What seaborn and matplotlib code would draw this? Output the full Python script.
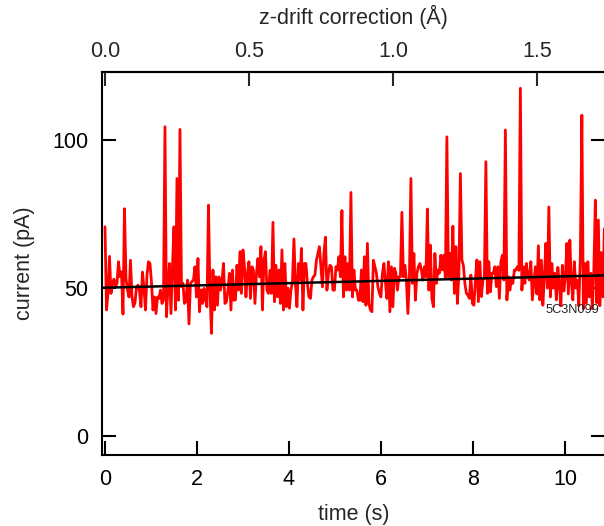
import numpy as np
import pandas as pd
import matplotlib
matplotlib.use("Agg")
import matplotlib.pyplot as plt
import seaborn as sns

# ---------------- data ----------------
sample_interval_s = 0.0326

current_pA = [
    70.7, 42.6, 48.2, 60.7, 48.2, 51.6, 53.0, 50.5, 51.6, 58.9,
    53.8, 55.5, 41.2, 76.8, 53.2, 49.3, 47.0, 59.4, 47.0, 43.7,
    45.0, 50.4, 51.0, 49.0, 43.7, 55.4, 49.9, 42.6, 54.4, 58.9,
    58.3, 52.0, 42.6, 47.0, 41.4, 47.0, 46.5, 49.3, 44.8, 46.0,
    104.5, 40.3, 50.4, 58.3, 41.4, 57.2, 70.7, 42.6, 87.0, 45.9,
    103.6, 50.4, 51.6, 44.8, 45.5, 52.7, 37.9,
    51.6, 52.2, 52.7, 57.2, 47.0, 60.0, 42.0, 49.3, 44.8, 49.9,
    46.0, 43.7, 78.0, 49.3, 34.7, 56.1, 42.6, 53.8, 44.2, 53.8,
    49.3, 52.0, 58.3, 44.8, 45.4, 49.3, 55.0, 42.6, 56.1, 45.9,
    46.0, 57.7, 49.3, 62.3, 48.2, 62.9, 57.2, 47.0, 55.0, 58.9,
    46.5, 57.2, 56.0, 44.8, 55.0, 60.0, 53.8, 64.0, 42.6, 59.4,
    62.3, 49.3, 48.2, 56.0, 48.2, 72.2,
    45.4, 57.7, 47.0, 56.1, 44.8, 62.9, 42.6, 58.3, 43.7, 50.0,
    43.2, 49.3, 52.0, 66.6, 51.6, 43.7, 58.3, 52.7, 63.4, 42.6,
    58.3, 58.3, 51.6, 47.0, 46.5, 52.7, 53.8, 54.4, 59.4, 61.7,
    64.0, 57.2, 50.4, 61.7, 67.2, 49.3, 55.0, 57.7, 57.2, 49.3,
    49.3, 57.2, 56.1, 60.6, 53.8, 76.2, 47.0, 60.6, 49.3, 58.3,
    49.3, 82.3, 47.0, 56.1, 49.3, 49.3, 45.9,
    45.9, 56.1, 45.4, 60.6, 44.2, 65.1, 44.8, 42.6, 42.0, 59.4,
    57.2, 55.0, 50.4, 48.2, 47.0, 55.0, 58.3, 52.0, 46.5, 58.9,
    42.0, 57.2, 43.7, 56.7, 55.0, 49.3, 53.8, 53.8, 75.6, 53.8,
    57.7, 52.7, 41.4, 53.8, 87.0, 51.6, 61.7, 45.9, 55.0, 57.2,
    58.3, 56.1, 52.7, 57.2, 53.8, 76.7, 49.3, 64.5, 46.5, 43.7,
    61.7, 51.6, 56.1, 55.0, 61.1, 56.1, 61.1,
    53.3, 101.1, 53.8, 61.7, 52.7, 70.9, 48.2, 64.0, 44.8, 55.0,
    88.7, 59.5, 57.7, 51.6, 48.2, 47.6, 46.5, 54.4, 44.8, 44.2,
    52.7, 59.5, 45.4, 58.9, 47.1, 52.7, 53.3, 92.7, 48.2, 58.9,
    48.7, 55.0, 55.0, 57.2, 50.5, 57.2, 46.5, 58.9, 61.1, 52.7,
    103.4, 46.0, 53.8, 49.3, 52.7, 51.6, 56.1, 56.1, 57.2, 56.0,
    117.5, 49.3, 57.2, 51.6, 58.3, 53.8,
    52.7, 58.9, 46.0, 51.6, 57.2, 48.0, 64.3, 46.0, 59.4, 44.2,
    53.8, 65.1, 50.0, 77.4, 47.0, 58.3, 50.0, 55.0, 46.0, 57.0,
    51.0, 44.0, 57.7, 49.0, 53.8, 65.1, 48.0, 66.2, 52.0, 46.0,
    58.9, 50.0, 52.7, 44.0, 60.6, 108.4, 43.0, 58.3, 44.8, 58.9,
    47.0, 55.0, 43.0, 56.1, 79.7, 45.0, 73.0, 44.0, 62.0, 47.0,
    70.0,
]

trend_time_s = [-0.07, 10.9]
trend_current_pA = [50.1, 54.3]

drift_A_per_s = 0.1597

x_ticks = [0, 2, 4, 6, 8, 10]
y_ticks = [0, 50, 100]
top_ticks = [0.0, 0.5, 1.0, 1.5]
top_tick_labels = ["0.0", "0.5", "1.0", "1.5"]
trace_label = "5C3N099"

# ---------------- style ----------------
sns.set_style("ticks")
plt.rcParams["font.family"] = ["Liberation Sans", "DejaVu Sans"]

FS = 15.5
W, H = 604, 526
fig = plt.figure(figsize=(W / 100, H / 100), dpi=100)
ax = fig.add_axes([102 / W, 71 / H, 503 / W, 383 / H])

df = pd.DataFrame({
    "time": np.arange(len(current_pA)) * sample_interval_s,
    "current": current_pA,
})
sns.lineplot(data=df, x="time", y="current", color="#ff0000", linewidth=2.0,
             ax=ax, estimator=None, sort=False)
sns.lineplot(x=trend_time_s, y=trend_current_pA, color="black", linewidth=1.8,
             ax=ax, estimator=None, sort=False)

ax.set_xlim(-0.065, 10.87)
ax.set_ylim(-6.4, 123.0)
ax.set_xticks(x_ticks)
ax.set_yticks(y_ticks)

for s in ax.spines.values():
    s.set_visible(True)
    s.set_linewidth(1.5)
    s.set_color("black")

ax.tick_params(axis="both", direction="in", length=10, width=1.5,
               labelsize=FS, colors="black")
ax.tick_params(axis="x", top=False, bottom=True, pad=10)
ax.tick_params(axis="y", left=True, right=True, labelright=False, pad=10)

ax.set_xlabel("time (s)", fontsize=FS, labelpad=10)
ax.set_ylabel("current (pA)", fontsize=FS, labelpad=12)

secax = ax.secondary_xaxis(
    "top",
    functions=(lambda t: t * drift_A_per_s, lambda z: z / drift_A_per_s),
)
secax.set_xticks(top_ticks)
secax.set_xticklabels(top_tick_labels)
secax.tick_params(direction="in", length=10, width=1.5, labelsize=FS, pad=7.5)
secax.spines["top"].set_linewidth(1.5)
secax.set_xlabel("z-drift correction (Å)", fontsize=FS, labelpad=12)

ax.text(9.58, 42.6, trace_label, fontsize=9.2, color="#222222",
        ha="left", va="center")

fig.savefig("out.png", dpi=100)
